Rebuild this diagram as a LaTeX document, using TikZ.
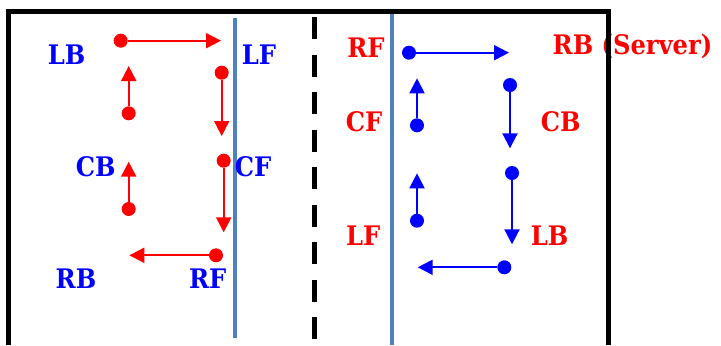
\documentclass[tikz,border=0pt]{standalone}
\usepackage{fontspec}
\setmainfont{DejaVu Serif Condensed}
\usetikzlibrary{arrows.meta}
\definecolor{steel}{RGB}{79,129,189}
\begin{document}
\begin{tikzpicture}[x=1bp,y=-1bp,
  lbl/.style={font=\fontsize{27}{27}\selectfont\bfseries, anchor=base, inner sep=0pt},
  bl/.style={lbl,text=blue},
  rd/.style={lbl,text=red},
  rdot/.style={circle,fill=red,minimum size=14bp,inner sep=0pt},
  bdot/.style={circle,fill=blue,minimum size=14bp,inner sep=0pt},
  rarr/.style={draw=red,line width=2bp,-{Triangle[length=15bp,width=15bp]}},
  barr/.style={draw=blue,line width=2bp,-{Triangle[length=15bp,width=15bp]}},
  divider/.style={draw=steel,line width=4.5bp},
  ]
\useasboundingbox (0,0) rectangle (721,345);

% dividers
\draw[divider] (235,18) -- (235,338);
\draw[divider] (392,11) -- (392,345);
\draw[line width=5bp,dash pattern=on 22bp off 15.5bp] (314,17) -- (314,345);

% left labels (blue)
\node[bl] (lLB) at (66.7,64) {LB};
\node[bl] (lLF) at (259,64) {LF};
\node[bl] (lCB) at (95.7,176) {CB};
\node[bl] (lCF) at (253,176.5) {CF};
\node[bl] (lRB) at (76,288.7) {RB};
\node[bl] (lRF) at (207.7,288.7) {RF};

% right labels (red)
\node[rd] (rRF) at (366,57.3) {RF};
\node[rd] (rRB) at (632.5,54) {RB (Server)};
\node[rd] (rCF) at (364,131.7) {CF};
\node[rd] (rCB) at (560.7,131.7) {CB};
\node[rd] (rLF) at (363.3,245) {LF};
\node[rd] (rLB) at (549.7,245) {LB};

% left red dots and arrows
\node[rdot] (a1) at (120.7,40.7) {};
\coordinate (ta1) at (221,40.7);
\node[rdot] (a2) at (221.7,72.7) {};
\coordinate (ta2) at (221.7,136);
\node[rdot] (a3) at (128.7,113.3) {};
\coordinate (ta3) at (128.7,66);
\node[rdot] (a4) at (223.7,160.7) {};
\coordinate (ta4) at (223.7,232.3);
\node[rdot] (a5) at (128.7,209) {};
\coordinate (ta5) at (128.7,161.7);
\node[rdot] (a6) at (216,255.3) {};
\coordinate (ta6) at (129.3,255.3);
\draw[rarr] (a1) -- (ta1);
\draw[rarr] (a2) -- (ta2);
\draw[rarr] (a3) -- (ta3);
\draw[rarr] (a4) -- (ta4);
\draw[rarr] (a5) -- (ta5);
\draw[rarr] (a6) -- (ta6);

% right blue dots and arrows
\node[bdot] (b1) at (409,52.7) {};
\coordinate (tb1) at (509,52.7);
\node[bdot] (b2) at (510,85) {};
\coordinate (tb2) at (510,148.3);
\node[bdot] (b3) at (417,125.3) {};
\coordinate (tb3) at (417,78.3);
\node[bdot] (b4) at (512,173) {};
\coordinate (tb4) at (512,244.3);
\node[bdot] (b5) at (417,220.7) {};
\coordinate (tb5) at (417,173.3);
\node[bdot] (b6) at (504.3,267.3) {};
\coordinate (tb6) at (417.7,267.3);
\draw[barr] (b1) -- (tb1);
\draw[barr] (b2) -- (tb2);
\draw[barr] (b3) -- (tb3);
\draw[barr] (b4) -- (tb4);
\draw[barr] (b5) -- (tb5);
\draw[barr] (b6) -- (tb6);

% frame
\draw[line width=5bp,miter limit=10] (8.5,345) -- (8.5,11.7) -- (608.3,11.7) -- (608.3,345);
\end{tikzpicture}
\end{document}
